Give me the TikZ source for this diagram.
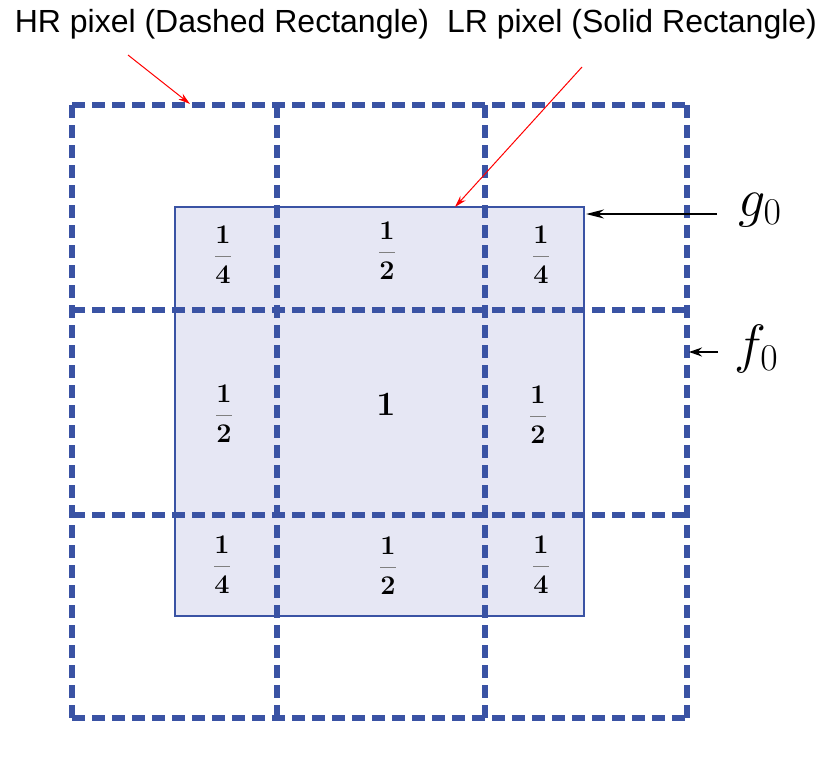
\RequirePackage{fix-cm}
\documentclass[tikz,border=0pt]{standalone}
\usepackage[no-math]{fontspec}
\setmainfont{Liberation Sans}
\usepackage{amsmath}
\usetikzlibrary{arrows.meta}
\definecolor{gridblue}{HTML}{3A53A4}
\definecolor{lrfill}{HTML}{E6E7F4}
\definecolor{barc}{HTML}{808080}
\newcommand{\wfrac}[2]{{\boldmath$\displaystyle\color{barc}\frac{\color{black}#1}{\color{black}#2}$}}
\begin{document}
\begin{tikzpicture}[x=1pt,y=-1pt,
  hrline/.style={draw=gridblue,line width=5.5pt,dash pattern=on 13pt off 7pt},
  lrbox/.style={draw=gridblue,line width=2.7pt,fill=lrfill},
  redarrow/.style={draw=red,line width=1pt,-{Stealth[length=12pt,width=7pt]}},
  blackarrow/.style={draw=black,line width=2pt,-{Stealth[length=18pt,width=9pt]}},
  lbl/.style={font=\fontsize{32}{36}\selectfont,inner sep=0pt},
  wfr/.style={font=\fontsize{27}{30}\selectfont,inner sep=0pt},
  bigone/.style={font=\fontsize{34}{37}\selectfont,inner sep=0pt},
  sym/.style={font=\fontsize{54}{58}\selectfont,inner sep=0pt,anchor=base west}]
\useasboundingbox (0,0) rectangle (830,777);
% LR pixel
\draw[lrbox] (175,207) rectangle (584,616);
\coordinate (lrtop) at (455,207);
\coordinate (lrright) at (586,214);
% HR grid
\foreach \x in {72,277,485,687} \draw[hrline] (\x,105) -- (\x,718);
\foreach \y in {105,310,515,718} \draw[hrline] (72,\y) -- (687,\y);
\coordinate (hrtop) at (190,104);
\coordinate (hrright) at (689,352);
% weights
\node[wfr] (w11) at (223,255) {\wfrac{1}{4}};
\node[wfr] (w12) at (387,251) {\wfrac{1}{2}};
\node[wfr] (w13) at (541,255) {\wfrac{1}{4}};
\node[wfr] (w21) at (224,414) {\wfrac{1}{2}};
\node[bigone] (w22) at (386,405) {{\boldmath$1$}};
\node[wfr] (w23) at (538,415) {\wfrac{1}{2}};
\node[wfr] (w31) at (222,565) {\wfrac{1}{4}};
\node[wfr] (w32) at (388,566) {\wfrac{1}{2}};
\node[wfr] (w33) at (541,565) {\wfrac{1}{4}};
% labels
\node[lbl] (hr) at (222,24) {HR pixel (Dashed Rectangle)};
\node[lbl] (lr) at (632,24) {LR pixel (Solid Rectangle)};
\coordinate (hrs) at (128,55);
\coordinate (lrs) at (582,67);
\draw[redarrow] (hrs) -- (hrtop);
\draw[redarrow] (lrs) -- (lrtop);
\node[sym] (g0) at (738,216) {$g_0$};
\node[sym] (f0) at (734,362) {$f_0$};
\coordinate (gs) at (717,214);
\coordinate (fs) at (718,352);
\draw[blackarrow] (gs) -- (lrright);
\draw[blackarrow,-{Stealth[length=13pt,width=9pt]}] (fs) -- (hrright);
\end{tikzpicture}
\end{document}
